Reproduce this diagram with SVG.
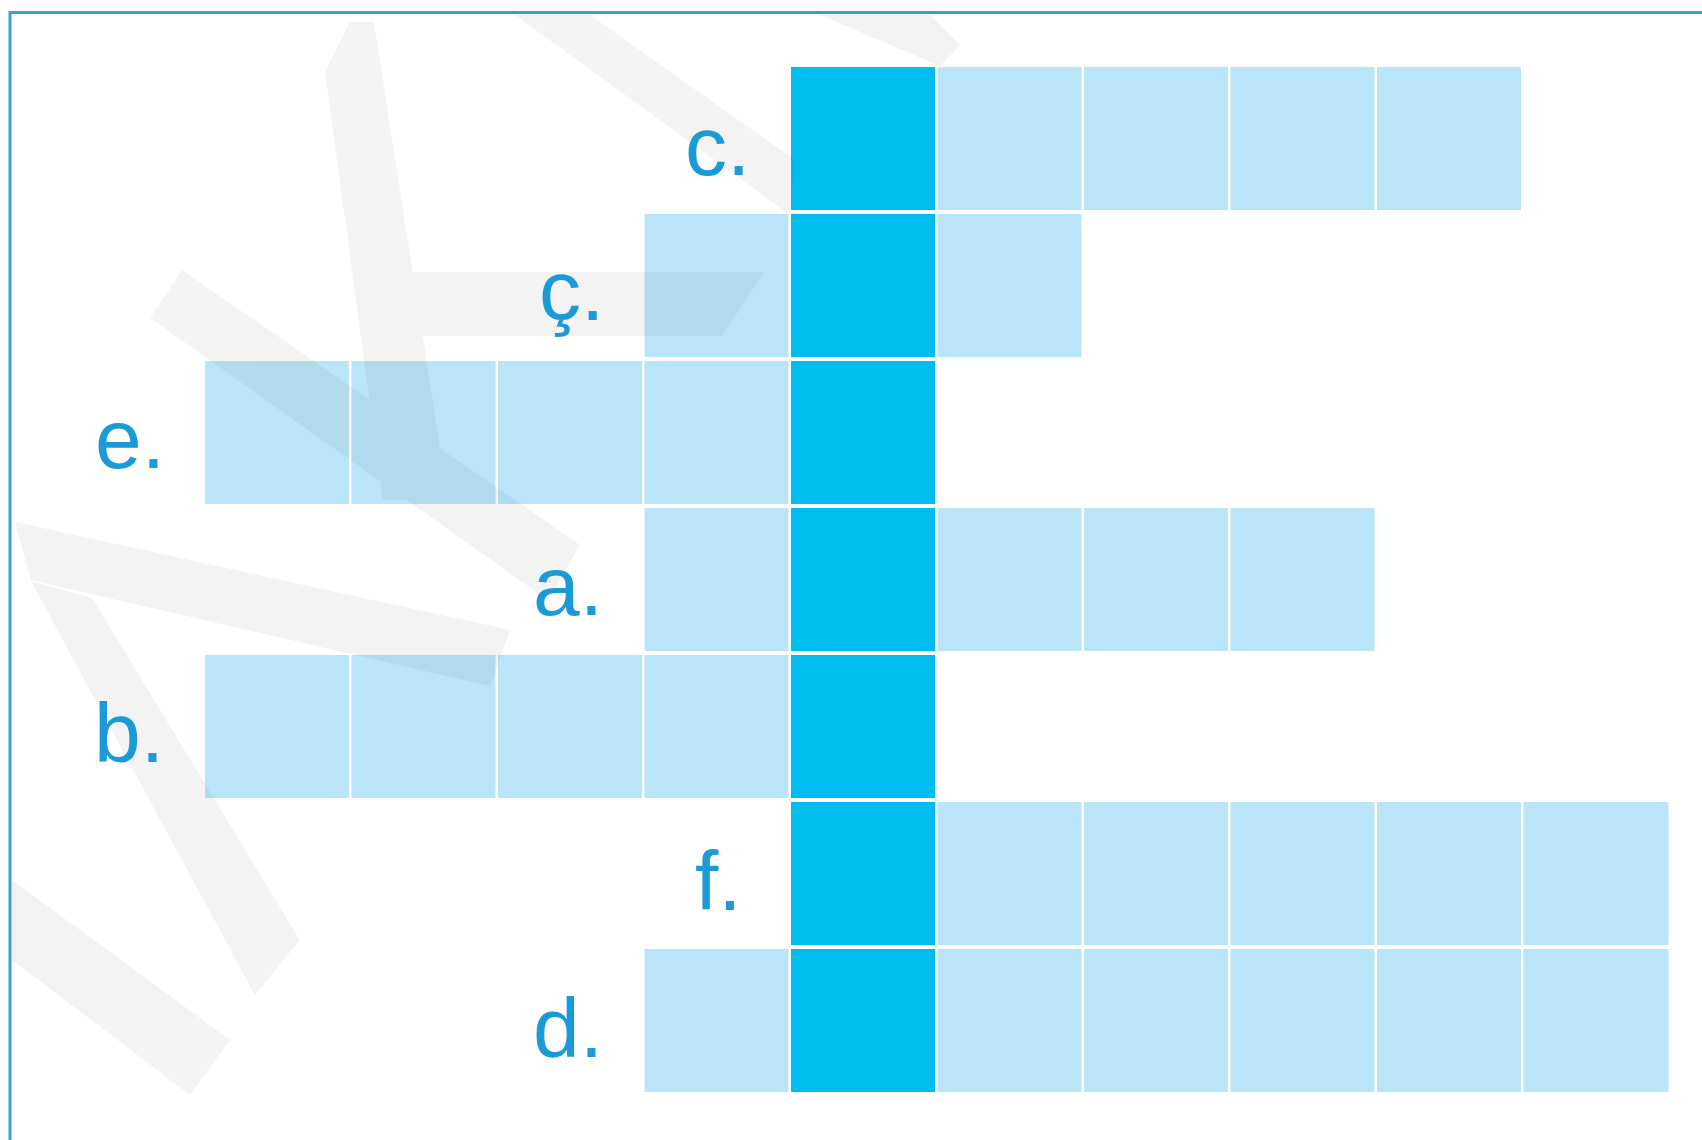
<svg xmlns="http://www.w3.org/2000/svg" width="1702" height="1140" viewBox="0 0 1702 1140">
  <style>
    .lt { fill: #bae5f8; }
    .dk { fill: #00bdf0; }
    .lbl { font-family: "Liberation Sans", Arial, sans-serif; font-size: 84px; fill: #1a9ad7; }
    .wm { fill: #000000; }
  </style>
  <rect x="0" y="0" width="1702" height="1140" fill="#ffffff"/>

  <g id="grid">
    <g id="row-c">
      <rect class="dk" x="791" y="67" width="144" height="143"/>
      <rect class="lt" x="937.5" y="67" width="144" height="143"/>
      <rect class="lt" x="1084" y="67" width="144" height="143"/>
      <rect class="lt" x="1230.5" y="67" width="144" height="143"/>
      <rect class="lt" x="1377" y="67" width="144" height="143"/>
    </g>
    <g id="row-cc">
      <rect class="lt" x="644.5" y="214" width="144" height="143"/>
      <rect class="dk" x="791" y="214" width="144" height="143"/>
      <rect class="lt" x="937.5" y="214" width="144" height="143"/>
    </g>
    <g id="row-e">
      <rect class="lt" x="205" y="361" width="144" height="143"/>
      <rect class="lt" x="351.5" y="361" width="144" height="143"/>
      <rect class="lt" x="498" y="361" width="144" height="143"/>
      <rect class="lt" x="644.5" y="361" width="144" height="143"/>
      <rect class="dk" x="791" y="361" width="144" height="143"/>
    </g>
    <g id="row-a">
      <rect class="lt" x="644.5" y="508" width="144" height="143"/>
      <rect class="dk" x="791" y="508" width="144" height="143"/>
      <rect class="lt" x="937.5" y="508" width="144" height="143"/>
      <rect class="lt" x="1084" y="508" width="144" height="143"/>
      <rect class="lt" x="1230.5" y="508" width="144" height="143"/>
    </g>
    <g id="row-b">
      <rect class="lt" x="205" y="655" width="144" height="143"/>
      <rect class="lt" x="351.5" y="655" width="144" height="143"/>
      <rect class="lt" x="498" y="655" width="144" height="143"/>
      <rect class="lt" x="644.5" y="655" width="144" height="143"/>
      <rect class="dk" x="791" y="655" width="144" height="143"/>
    </g>
    <g id="row-f">
      <rect class="dk" x="791" y="802" width="144" height="143"/>
      <rect class="lt" x="937.5" y="802" width="144" height="143"/>
      <rect class="lt" x="1084" y="802" width="144" height="143"/>
      <rect class="lt" x="1230.5" y="802" width="144" height="143"/>
      <rect class="lt" x="1377" y="802" width="144" height="143"/>
      <rect class="lt" x="1523.5" y="802" width="145" height="143"/>
    </g>
    <g id="row-d">
      <rect class="lt" x="644.5" y="949" width="144" height="143"/>
      <rect class="dk" x="791" y="949" width="144" height="143"/>
      <rect class="lt" x="937.5" y="949" width="144" height="143"/>
      <rect class="lt" x="1084" y="949" width="144" height="143"/>
      <rect class="lt" x="1230.5" y="949" width="144" height="143"/>
      <rect class="lt" x="1377" y="949" width="144" height="143"/>
      <rect class="lt" x="1523.5" y="949" width="145" height="143"/>
    </g>
  </g>

  <g id="watermark" opacity="0.045">
    <polygon class="wm" points="325,72 350,22 374,22 448,500 383,500"/>
    <polygon class="wm" points="412,272 764,272 722,336 422,336"/>
    <polygon class="wm" points="150,318 182,270 580,545 548,600"/>
    <polygon class="wm" points="15,522 510,630 490,686 31,580"/>
    <polygon class="wm" points="31,581 92,598 300,940 255,995"/>
    <polygon class="wm" points="12,880 230,1040 190,1095 12,960"/>
    <polygon class="wm" points="515,15 590,15 795,160 790,215"/>
    <polygon class="wm" points="820,15 930,15 960,45 940,66"/>
  </g>

  <g id="labels">
    <text id="label-c" class="lbl" x="685" y="175">c.</text>
    <text id="label-cc" class="lbl" x="539" y="320">ç.</text>
    <text id="label-e" class="lbl" x="95" y="468">e.</text>
    <text id="label-a" class="lbl" x="533" y="615">a.</text>
    <text id="label-b" class="lbl" x="94" y="762">b.</text>
    <text id="label-f" class="lbl" x="695" y="910">f.</text>
    <text id="label-d" class="lbl" x="533" y="1057">d.</text>
  </g>

  <g id="connectors"></g>

  <g id="frame" fill="none" stroke="#3a9fd3" stroke-width="3">
    <polyline points="10,1140 10,12.5 1702,12.5"/>
  </g>
</svg>
